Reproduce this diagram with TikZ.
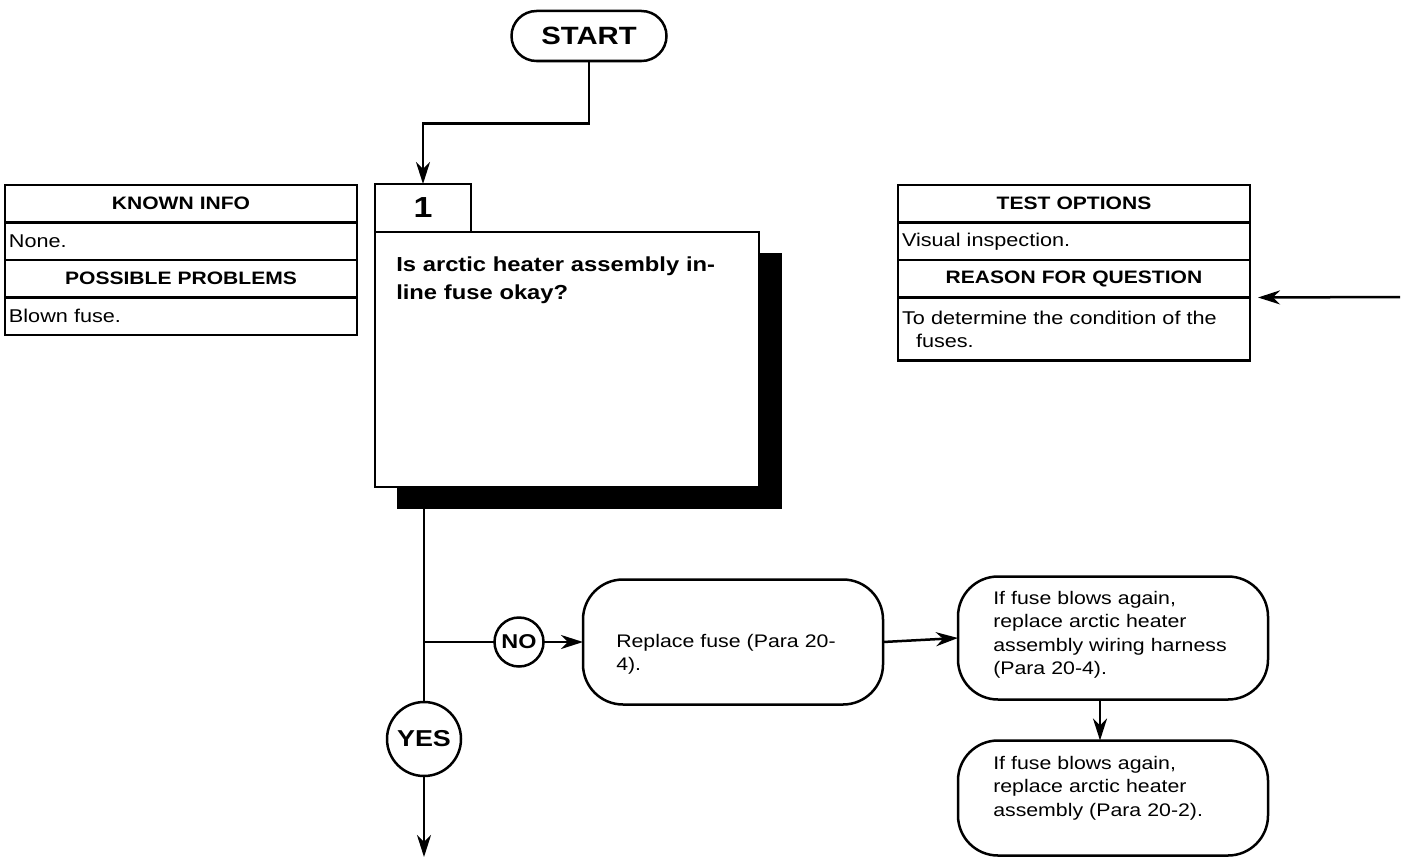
\documentclass[tikz,border=0pt]{standalone}
\usepackage{fontspec}
\setmainfont{Liberation Sans}[FakeStretch=1.17]
\usetikzlibrary{positioning,arrows.meta}

\begin{document}
\begin{tikzpicture}[x=1pt,y=-1pt,line width=2.5pt,
	>={Stealth[length=22pt,width=14pt,inset=7pt]},
	txt/.style={font=\fontsize{18.5}{23}\selectfont},
	hd/.style={font=\fontsize{18}{23}\selectfont\bfseries},
	row/.style={draw,minimum width=352,minimum height=37.5,inner sep=0pt,outer sep=0pt,text width=344},
	rnd/.style={draw,rounded corners=40,inner sep=0pt,outer sep=0pt},
	say/.style={font=\fontsize{18.2}{23.5}\selectfont,anchor=base west,align=left,inner sep=0pt,text width=280},
	ans/.style={draw,circle,inner sep=0pt,outer sep=0pt}]
	\useasboundingbox (0,0) rectangle (1404,867);
	\node[draw,rounded corners=25,minimum width=155,minimum height=50,font=\fontsize{25}{25}\selectfont\bfseries] (start) at (589,36) {START};
	% known info
	\node[row,hd,align=center,anchor=north] (ki) at (181,185) {KNOWN INFO};
	\node[row,txt,align=left,below=0pt of ki] (kinone) {None.};
	\node[row,hd,align=center,below=0pt of kinone] (pp) {POSSIBLE PROBLEMS};
	\node[row,txt,align=left,below=0pt of pp] (ppfuse) {Blown fuse.};
	% test options
	\node[row,hd,align=center,anchor=north] (to) at (1074,185) {TEST OPTIONS};
	\node[row,txt,align=left,below=0pt of to] (tovis) {Visual inspection.};
	\node[row,hd,align=center,below=0pt of tovis] (rq) {REASON FOR QUESTION};
	\node[row,txt,align=left,minimum height=63,below=0pt of rq] (rqwhy) {To determine the condition of the\\\hspace*{14pt}fuses.};
	% question 1, shadow first
	\coordinate (shnw) at (397,253);
	\coordinate (shse) at (782,509);
	\fill (shnw) rectangle (shse);
	\node[draw,fill=white,minimum width=384,minimum height=255,inner sep=0pt,outer sep=0pt,anchor=north west] (q1) at (375,232) {};
	\node[draw,fill=white,minimum width=96,minimum height=48,inner sep=0pt,outer sep=0pt,anchor=south west,font=\fontsize{29}{29}\selectfont\bfseries] (tab) at (q1.north west) {1};
	\node[anchor=base west,text width=340,align=left,inner sep=0pt,font=\fontsize{20.3}{28}\selectfont\bfseries] (q1txt) at (395,271) {Is arctic heater assembly in-\\line fuse okay?};
	% answers
	\node[ans,minimum size=74,font=\fontsize{23}{23}\selectfont\bfseries] (yes) at (424,739) {YES};
	\node[ans,minimum size=49,font=\fontsize{20}{20}\selectfont\bfseries] (no) at (519,642) {NO};
	\node[rnd,minimum width=300,minimum height=125] (fix) at (733,642) {};
	\node[rnd,minimum width=310,minimum height=123] (wire) at (1113,638) {};
	\node[rnd,minimum width=310,minimum height=115] (asm) at (1113,798) {};
	\node[say] (fixtxt) at (615,647) {Replace fuse (Para 20-\\4).};
	\node[say] (wiretxt) at (992,604) {If fuse blows again,\\replace arctic heater\\assembly wiring harness\\(Para 20-4).};
	\node[say] (asmtxt) at (992,769) {If fuse blows again,\\replace arctic heater\\assembly (Para 20-2).};
	% connectors
	\draw[->] (start.south) -- ++(0,61) -| (tab.north);
	\draw (yes.north |- shse) -- (yes.north);
	\draw (yes.north |- no.west) -- (no.west);
	\draw[->] (no.east) -- (fix.west);
	\draw[->] (fix.east) -- (wire.west);
	\draw[->] ([xshift=-13]wire.south) -- ([xshift=-13]asm.north);
	\coordinate (down) at (424,857);
	\draw[->] (yes.south) -- (down);
	\coordinate (ret) at (1400,297);
	\draw[->] (ret) -- ([xshift=8]rq.south east);
\end{tikzpicture}
\end{document}
